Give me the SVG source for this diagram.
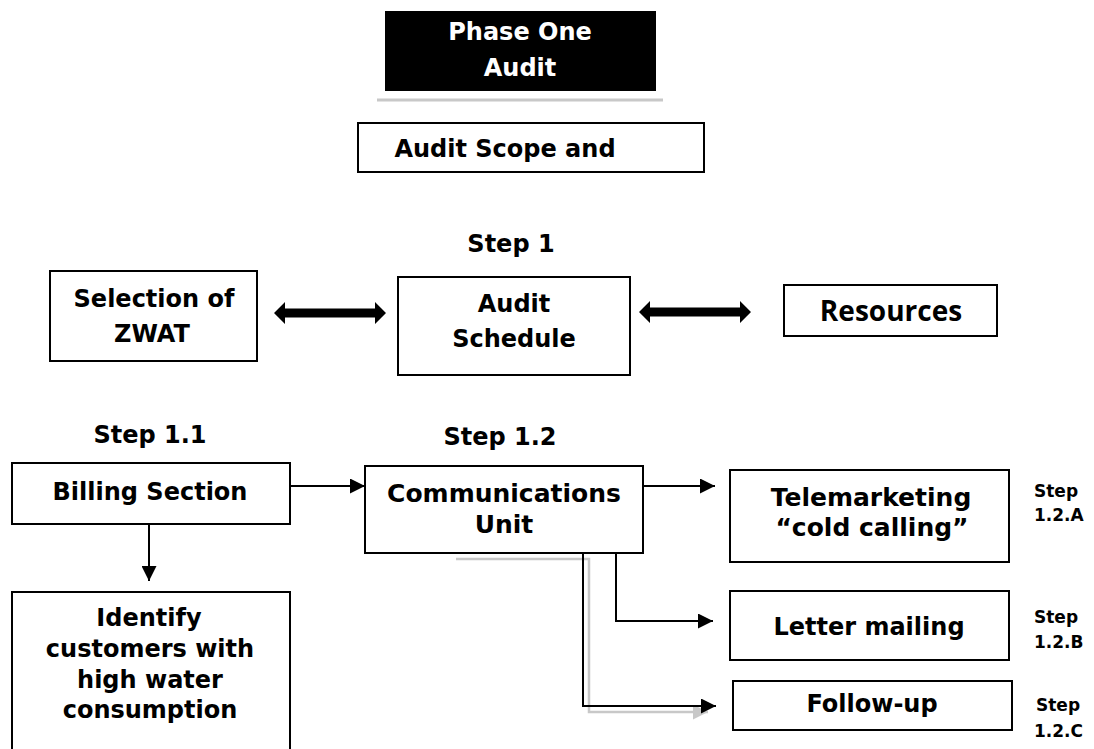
<svg xmlns="http://www.w3.org/2000/svg" width="1094" height="749" viewBox="0 0 1094 749">
<style>
.box{fill:#fff;stroke:#000;stroke-width:2}
.t{font-family:"DejaVu Sans","Liberation Sans",sans-serif;font-weight:bold;font-size:24px;fill:#000;text-anchor:middle}
.w{fill:#fff}
.b{font-size:25px}
.s{font-size:17px;text-anchor:start}
.ln{fill:none;stroke:#000;stroke-width:2}
.sh{fill:none;stroke:#c8c8c8;stroke-width:2.5}
</style>
<defs>
<marker id="ah" markerUnits="userSpaceOnUse" markerWidth="16" markerHeight="15" refX="15" refY="7.5" orient="auto">
<path d="M0,0 L15,7.5 L0,15 z" fill="#000"/>
</marker>
<marker id="ahg" markerUnits="userSpaceOnUse" markerWidth="16" markerHeight="15" refX="15" refY="7.5" orient="auto">
<path d="M0,0 L15,7.5 L0,15 z" fill="#c8c8c8"/>
</marker>
<path id="dbl" d="M0,0 L11,-11 L11,-4.5 L101,-4.5 L101,-11 L112,0 L101,11 L101,4.5 L11,4.5 L11,11 z" fill="#000"/>
</defs>
<rect width="1094" height="749" fill="#fff"/>

<g id="connectors">
<polyline class="sh" points="456,559 589,559 589,712 708,712" marker-end="url(#ahg)"/>
<use href="#dbl" x="274" y="313"/>
<use href="#dbl" x="639" y="312"/>
<line class="ln" x1="290" y1="486" x2="365" y2="486" marker-end="url(#ah)"/>
<line class="ln" x1="149" y1="524" x2="149" y2="581" marker-end="url(#ah)"/>
<line class="ln" x1="643" y1="486" x2="715" y2="486" marker-end="url(#ah)"/>
<polyline class="ln" points="616,553 616,621 713,621" marker-end="url(#ah)"/>
</g>

<g id="phase-one">
<line x1="377" y1="100" x2="663" y2="100" stroke="#c8c8c8" stroke-width="3"/>
<rect x="385" y="11" width="271" height="80" fill="#000"/>
<text class="t w" x="520" y="40">Phase One</text>
<text class="t w" x="520" y="76">Audit</text>
</g>

<g id="audit-scope">
<rect class="box" x="358" y="123" width="346" height="49"/>
<text class="t" x="505" y="157">Audit Scope and</text>
</g>

<g id="step1-label">
<text class="t" x="511" y="252">Step 1</text>
</g>

<g id="selection">
<rect class="box" x="50" y="271" width="207" height="90"/>
<text class="t" x="154" y="307">Selection of</text>
<text class="t" x="152" y="342">ZWAT</text>
</g>

<g id="audit-schedule">
<rect class="box" x="398" y="277" width="232" height="98"/>
<text class="t" x="514" y="312">Audit</text>
<text class="t" x="514" y="347">Schedule</text>
</g>

<g id="resources">
<rect class="box" x="784" y="285" width="213" height="51"/>
<text class="t" x="891" y="321" style="font-family:'Open Sans','DejaVu Sans',sans-serif;font-size:28px">Resources</text>
</g>

<g id="billing">
<text class="t" x="150" y="443">Step 1.1</text>
<rect class="box" x="12" y="463" width="278" height="61"/>
<text class="t" x="150" y="500">Billing Section</text>
</g>

<g id="identify">
<rect class="box" x="12" y="592" width="278" height="170"/>
<text class="t" x="149" y="626">Identify</text>
<text class="t" x="150" y="657">customers with</text>
<text class="t" x="150" y="688">high water</text>
<text class="t" x="150" y="718">consumption</text>
</g>

<g id="communications">
<text class="t" x="500" y="445">Step 1.2</text>
<rect class="box" x="365" y="466" width="278" height="87"/>
<text class="t b" x="504" y="502">Communications</text>
<text class="t b" x="504" y="533">Unit</text>
</g>

<g id="connector-followup">
<polyline class="ln" points="450,553 583,553 583,706 716,706" marker-end="url(#ah)"/>
</g>

<g id="telemarketing">
<rect class="box" x="730" y="470" width="279" height="92"/>
<text class="t b" x="871" y="506">Telemarketing</text>
<text class="t b" x="872" y="536">“cold calling”</text>
<text class="t s" x="1034" y="497">Step</text>
<text class="t s" x="1034" y="521">1.2.A</text>
</g>

<g id="letter-mailing">
<rect class="box" x="730" y="591" width="279" height="69"/>
<text class="t" x="869" y="635">Letter mailing</text>
<text class="t s" x="1034" y="623">Step</text>
<text class="t s" x="1034" y="648">1.2.B</text>
</g>

<g id="follow-up">
<rect class="box" x="733" y="681" width="279" height="49"/>
<text class="t" x="872" y="712">Follow-up</text>
<text class="t s" x="1036" y="711">Step</text>
<text class="t s" x="1034" y="737">1.2.C</text>
</g>
</svg>
